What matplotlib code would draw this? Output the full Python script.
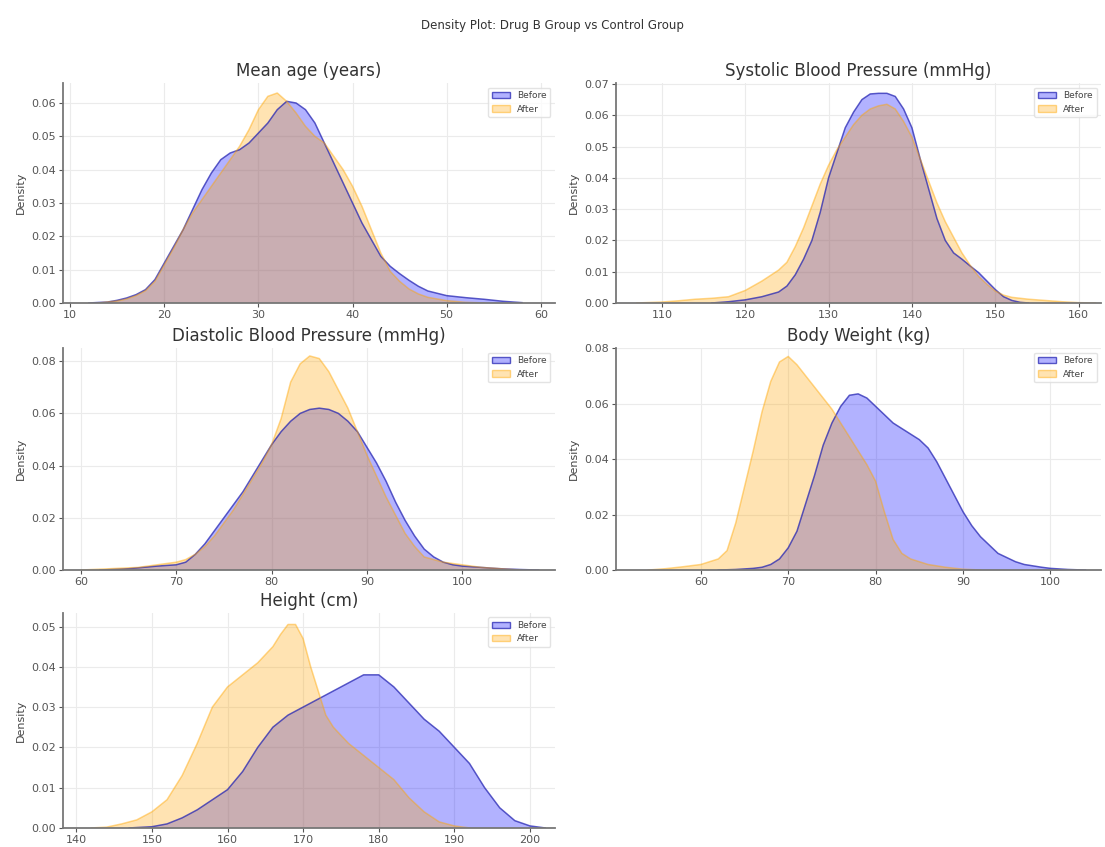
import matplotlib
matplotlib.use("Agg")
import matplotlib.pyplot as plt
from matplotlib.patches import Patch

plt.rcParams['font.family'] = ['DejaVu Sans']

suptitle = "Density Plot: Drug B Group vs Control Group"
titles = ["Mean age (years)", "Systolic Blood Pressure (mmHg)",
          "Diastolic Blood Pressure (mmHg)", "Body Weight (kg)", "Height (cm)"]
labels = ["Before", "After"]

# ---- Mean age ----
age_before_x = [12, 14, 15, 16, 17, 18, 19, 20, 21, 22, 23, 24, 25, 26, 27, 28, 29, 30, 31, 32, 33, 34, 35, 36,
                37, 38, 39, 40, 41, 42, 43, 44, 45, 46, 47, 48, 50, 52, 54, 56, 58]
age_before_y = [0, 0.0003, 0.0008, 0.0015, 0.0025, 0.004, 0.007, 0.012, 0.017, 0.022, 0.028, 0.034, 0.039,
                0.043, 0.045, 0.046, 0.048, 0.051, 0.054, 0.058, 0.0605, 0.060, 0.058, 0.054, 0.048, 0.042,
                0.036, 0.030, 0.024, 0.019, 0.014, 0.011, 0.0088, 0.0068, 0.005, 0.0036, 0.0022, 0.0016,
                0.0011, 0.0005, 0.0001]
age_after_x = [13, 15, 16, 17, 18, 19, 20, 21, 22, 23, 24, 25, 26, 27, 28, 29, 30, 31, 32, 33, 34, 35, 36, 37,
               38, 39, 40, 41, 42, 43, 44, 45, 46, 47, 48, 50, 52, 54]
age_after_y = [0, 0.0006, 0.0012, 0.0022, 0.0037, 0.0065, 0.0115, 0.0165, 0.022, 0.027, 0.031, 0.035, 0.039,
               0.043, 0.047, 0.052, 0.058, 0.062, 0.063, 0.0605, 0.057, 0.053, 0.050, 0.048, 0.044, 0.040,
               0.035, 0.029, 0.022, 0.015, 0.0095, 0.0065, 0.0042, 0.0027, 0.0017, 0.0007, 0.0002, 0]

# ---- Systolic BP ----
sys_before_x = [116, 118, 120, 122, 124, 125, 126, 127, 128, 129, 130, 131, 132, 133, 134, 135, 136, 137, 138,
                139, 140, 141, 142, 143, 144, 145, 146, 147, 148, 149, 150, 151, 152, 153, 154]
sys_before_y = [0, 0.0004, 0.001, 0.002, 0.0035, 0.0054, 0.009, 0.014, 0.020, 0.029, 0.040, 0.048, 0.056,
                0.061, 0.065, 0.0668, 0.067, 0.067, 0.066, 0.062, 0.056, 0.046, 0.0365, 0.027, 0.020, 0.016,
                0.014, 0.0118, 0.0097, 0.007, 0.0043, 0.002, 0.0008, 0.0002, 0]
sys_after_x = [107, 110, 112, 114, 116, 118, 120, 122, 124, 125, 126, 127, 128, 129, 130, 131, 132, 133, 134,
               135, 136, 137, 138, 139, 140, 141, 142, 143, 144, 145, 146, 147, 148, 149, 150, 151, 152, 154,
               156, 158, 160, 162]
sys_after_y = [0, 0.0003, 0.0007, 0.0012, 0.0015, 0.002, 0.004, 0.007, 0.0105, 0.013, 0.018, 0.024, 0.031,
               0.038, 0.044, 0.049, 0.053, 0.057, 0.060, 0.062, 0.063, 0.0635, 0.062, 0.058, 0.053, 0.046,
               0.039, 0.032, 0.026, 0.021, 0.016, 0.012, 0.0085, 0.006, 0.0038, 0.0025, 0.0018, 0.0012,
               0.0008, 0.0004, 0.0001, 0]

# ---- Diastolic BP ----
dia_before_x = [62, 65, 68, 70, 71, 72, 73, 74, 75, 76, 77, 78, 79, 80, 81, 82, 83, 84, 85, 86, 87, 88, 89, 90,
                91, 92, 93, 94, 95, 96, 97, 98, 99, 100, 102, 104, 106, 108]
dia_before_y = [0, 0.0005, 0.0015, 0.002, 0.003, 0.006, 0.010, 0.015, 0.020, 0.025, 0.030, 0.036, 0.042,
                0.048, 0.053, 0.057, 0.060, 0.0615, 0.062, 0.0615, 0.060, 0.057, 0.053, 0.047, 0.041, 0.034,
                0.026, 0.019, 0.013, 0.008, 0.005, 0.003, 0.002, 0.0015, 0.001, 0.0005, 0.0002, 0]
dia_after_x = [60, 63, 66, 68, 70, 71, 72, 73, 74, 75, 76, 77, 78, 79, 80, 81, 82, 83, 84, 85, 86, 87, 88, 89,
               90, 91, 92, 93, 94, 95, 96, 97, 98, 100, 102, 104, 106]
dia_after_y = [0, 0.0005, 0.001, 0.002, 0.003, 0.004, 0.006, 0.009, 0.013, 0.018, 0.023, 0.029, 0.035, 0.041,
               0.048, 0.058, 0.072, 0.079, 0.082, 0.081, 0.076, 0.069, 0.062, 0.053, 0.044, 0.036, 0.028,
               0.021, 0.014, 0.009, 0.005, 0.004, 0.003, 0.002, 0.001, 0.0005, 0]

# ---- Body weight ----
wt_before_x = [62, 64, 66, 67, 68, 69, 70, 71, 72, 73, 74, 75, 76, 77, 78, 79, 80, 81, 82, 83, 84, 85, 86, 87,
               88, 89, 90, 91, 92, 93, 94, 95, 96, 97, 98, 99, 100, 102, 104]
wt_before_y = [0, 0.0002, 0.0006, 0.001, 0.002, 0.004, 0.008, 0.014, 0.024, 0.034, 0.045, 0.053, 0.059,
               0.063, 0.0635, 0.062, 0.059, 0.056, 0.053, 0.051, 0.049, 0.047, 0.044, 0.039, 0.033, 0.027,
               0.021, 0.016, 0.012, 0.009, 0.006, 0.0045, 0.003, 0.002, 0.0015, 0.001, 0.0006, 0.0002, 0]
wt_after_x = [54, 56, 58, 60, 61, 62, 63, 64, 65, 66, 67, 68, 69, 70, 71, 72, 73, 74, 75, 76, 77, 78, 79, 80,
              81, 82, 83, 84, 86, 88, 90, 92]
wt_after_y = [0, 0.0005, 0.0012, 0.002, 0.003, 0.004, 0.007, 0.017, 0.030, 0.043, 0.057, 0.068, 0.075, 0.077,
              0.074, 0.070, 0.066, 0.062, 0.058, 0.053, 0.048, 0.043, 0.038, 0.032, 0.021, 0.011, 0.006,
              0.004, 0.002, 0.001, 0.0003, 0]

# ---- Height ----
ht_before_x = [147, 150, 152, 154, 156, 158, 160, 162, 164, 166, 168, 170, 172, 174, 176, 178, 180, 182, 184,
               186, 188, 190, 192, 194, 196, 198, 200, 202]
ht_before_y = [0, 0.0003, 0.001, 0.0025, 0.0045, 0.007, 0.0095, 0.014, 0.020, 0.025, 0.028, 0.030, 0.032,
               0.034, 0.036, 0.038, 0.038, 0.035, 0.031, 0.027, 0.024, 0.020, 0.016, 0.010, 0.005, 0.0018,
               0.0005, 0]
ht_after_x = [142, 144, 146, 148, 150, 152, 154, 156, 158, 160, 162, 164, 166, 167, 168, 169, 170, 171, 172,
              173, 174, 176, 178, 180, 182, 184, 186, 188, 190, 192]
ht_after_y = [0, 0.0002, 0.001, 0.002, 0.004, 0.007, 0.013, 0.021, 0.030, 0.035, 0.038, 0.041, 0.045, 0.048,
              0.0505, 0.0505, 0.047, 0.040, 0.034, 0.028, 0.025, 0.021, 0.018, 0.015, 0.012, 0.0075, 0.004,
              0.0015, 0.0005, 0]

panels = [
    (age_before_x, age_before_y, age_after_x, age_after_y),
    (sys_before_x, sys_before_y, sys_after_x, sys_after_y),
    (dia_before_x, dia_before_y, dia_after_x, dia_after_y),
    (wt_before_x, wt_before_y, wt_after_x, wt_after_y),
    (ht_before_x, ht_before_y, ht_after_x, ht_after_y),
]
xticks = [[10, 20, 30, 40, 50, 60], [110, 120, 130, 140, 150, 160], [60, 70, 80, 90, 100],
          [60, 70, 80, 90, 100], [140, 150, 160, 170, 180, 190, 200]]
yticks = [[0, 0.01, 0.02, 0.03, 0.04, 0.05, 0.06], [0, 0.01, 0.02, 0.03, 0.04, 0.05, 0.06, 0.07],
          [0, 0.02, 0.04, 0.06, 0.08], [0, 0.02, 0.04, 0.06, 0.08], [0, 0.01, 0.02, 0.03, 0.04, 0.05]]
xlims = [(9.2, 61.5), (104.5, 162.7), (58.1, 109.7), (50.3, 105.8), (138.2, 203.3)]
ylims = [(0, 0.066), (0, 0.0703), (0, 0.085), (0, 0.080), (0, 0.0534)]

# layout (figure fractions)
lefts = [0.0567, 0.5575, 0.0567, 0.5575, 0.0567]
widths = [0.4455, 0.439, 0.4455, 0.439, 0.4455]
bottoms = [0.6423, 0.6423, 0.327, 0.327, 0.0225]
heights = [0.2597, 0.2597, 0.262, 0.262, 0.254]

fig = plt.figure(figsize=(11.05, 8.47), dpi=100)
fig.suptitle(suptitle, fontsize=8.5, y=0.977, color='#333333')

blue = (0, 0, 1)
orange = (1, 0.647, 0)
for i, (bx, by, ax_, ay) in enumerate(panels):
    ax = fig.add_axes([lefts[i], bottoms[i], widths[i], heights[i]])
    ax.set_axisbelow(True)
    ax.grid(True, color='#ebebeb', linewidth=0.8)
    ax.fill_between(bx, by, 0, facecolor=blue, alpha=0.3, linewidth=0)
    ax.plot(bx, by, color=(0.15, 0.15, 0.7, 0.75), linewidth=1.1)
    ax.fill_between(ax_, ay, 0, facecolor=orange, alpha=0.3, linewidth=0)
    ax.plot(ax_, ay, color=(1, 0.65, 0.0, 0.45), linewidth=1.1)
    ax.set_xticks(xticks[i])
    ax.set_yticks(yticks[i])
    ax.set_xlim(*xlims[i])
    ax.set_ylim(*ylims[i])
    ax.set_title(titles[i], fontsize=12, color='#333333', pad=5)
    ax.set_ylabel("Density", fontsize=8, color='#444444')
    for s in ['top', 'right']:
        ax.spines[s].set_visible(False)
    for s in ['left', 'bottom']:
        ax.spines[s].set_color('#777777')
        ax.spines[s].set_linewidth(1.3)
    ax.tick_params(labelsize=8, colors='#555555', length=3, width=0.8, pad=2)
    handles = [Patch(facecolor=(0, 0, 1, 0.3), edgecolor=(0.15, 0.15, 0.7, 0.75), label=labels[0]),
               Patch(facecolor=(1, 0.647, 0, 0.3), edgecolor=(1, 0.65, 0, 0.45), label=labels[1])]
    leg = ax.legend(handles=handles, loc='upper right', fontsize=6.5, frameon=True,
                    framealpha=0.8, edgecolor='#dddddd', fancybox=True)
    for t in leg.get_texts():
        t.set_color('#444444')

fig.savefig("out.png", dpi=100)
